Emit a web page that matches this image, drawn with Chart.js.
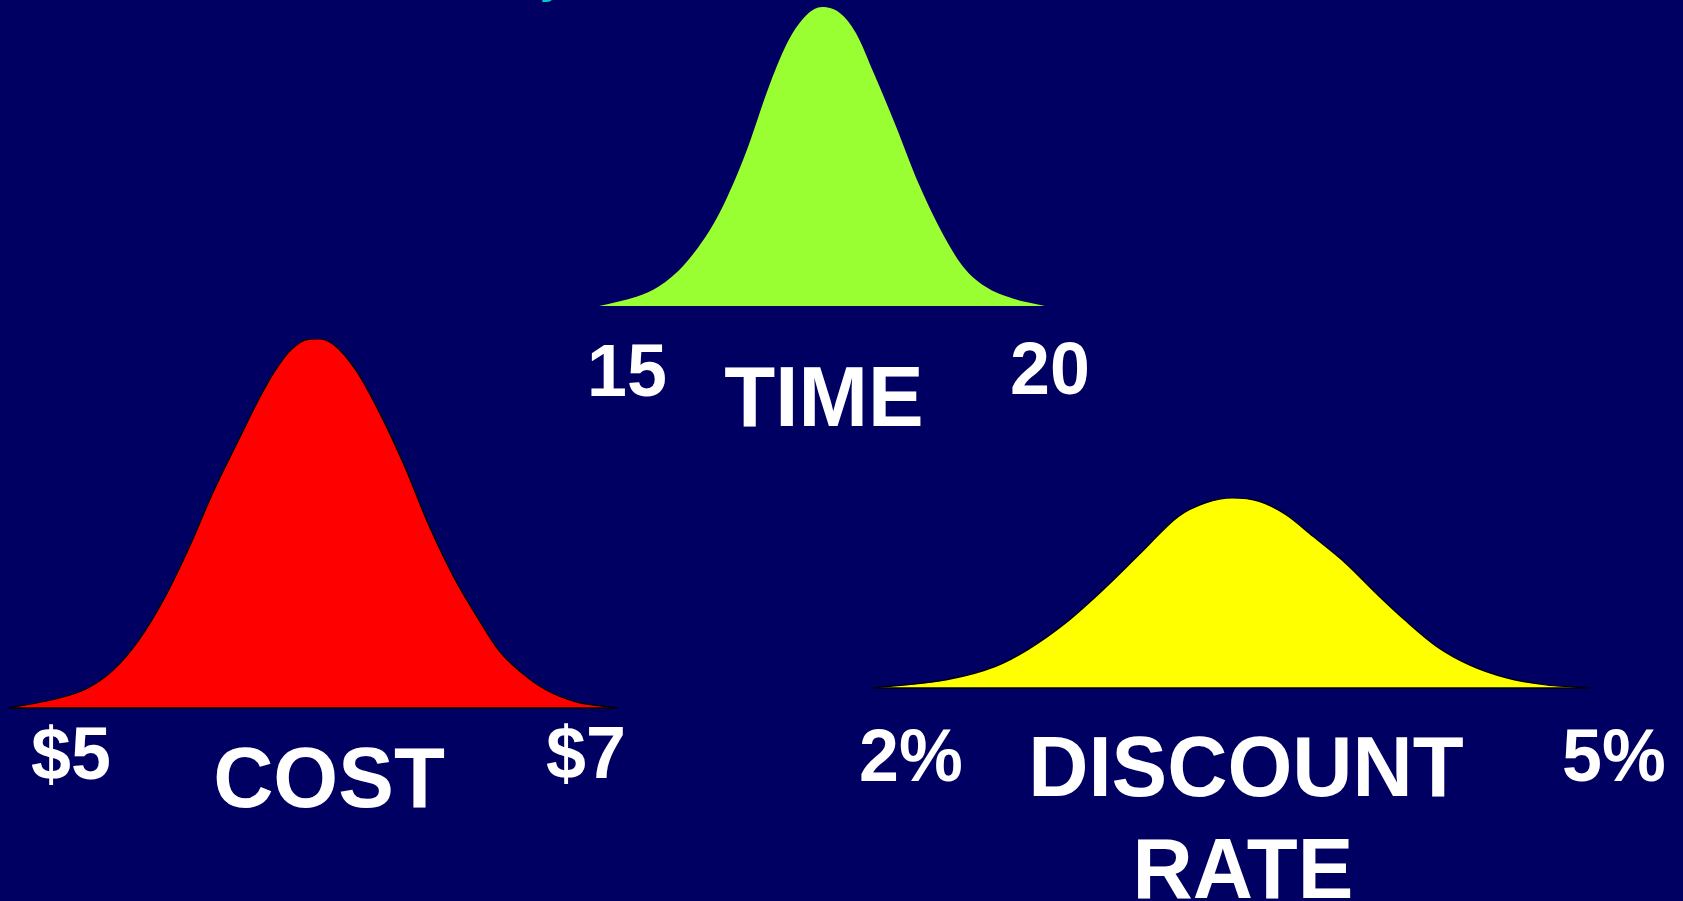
<!DOCTYPE html>
<html>
<head>
<meta charset="utf-8">
<script src="https://cdn.jsdelivr.net/npm/chart.js@4/dist/chart.umd.min.js"></script>
<style>
  html, body { margin: 0; padding: 0; }
  body { width: 1683px; height: 901px; background: #000062; position: relative; overflow: hidden;
         font-family: "Liberation Sans", Arial, sans-serif; }
  canvas { position: absolute; }
  .lbl { position: absolute; width: 800px; text-align: center; color: #fff; font-weight: bold;
         line-height: 1; white-space: nowrap; transform: scaleX(0.97); }
  .big { font-size: 86px; }
  .small { font-size: 74px; }
</style>
</head>
<body>

<div class="lbl" style="left:153px; top:-48px; font-size:48px; color:#00cccc;">y</div>

<canvas id="chart-time" width="456" height="309" style="left:594px; top:2px;"></canvas>
<canvas id="chart-cost" width="620" height="379" style="left:3px; top:334px;"></canvas>
<canvas id="chart-rate" width="727" height="200" style="left:868px; top:493px;"></canvas>

<div class="lbl small" style="left:227px; top:334px;">15</div>
<div class="lbl big"   style="left:424px; top:353px;">TIME</div>
<div class="lbl small" style="left:650px; top:332px;">20</div>

<div class="lbl small" style="left:-329px; top:717px;">$5</div>
<div class="lbl big"   style="left:-71px; top:734px;">COST</div>
<div class="lbl small" style="left:186px; top:716px;">$7</div>

<div class="lbl small" style="left:511px; top:719px;">2%</div>
<div class="lbl big"   style="left:846px; top:723px;">DISCOUNT</div>
<div class="lbl big"   style="left:843px; top:825px;">RATE</div>
<div class="lbl small" style="left:1214px; top:719px;">5%</div>

<script>
// 3つの分布（高さはピークを100とした相対値）

// TIME 15 - 20
const timeX = [15.00, 15.42, 15.67, 15.97, 16.33, 16.63, 16.92, 17.13, 17.33, 17.50,
               17.70, 17.88, 18.08, 18.33, 18.58, 18.85, 19.08, 19.33, 19.63, 20.00];
const timeY = [0, 3.1, 6.5, 14.3, 29.9, 50.0, 74.6, 89.1, 97.4, 100,
               98.0, 91.3, 77.9, 60.0, 41.1, 24.3, 13.2, 6.5, 2.6, 0];

// COST $5 - $7
const costX = [5.000, 5.159, 5.259, 5.344, 5.429, 5.515, 5.600, 5.671, 5.756, 5.827, 5.870, 5.927, 5.984,
               6.019, 6.069, 6.140, 6.225, 6.296, 6.382, 6.467, 6.538, 6.609, 6.680, 6.766, 6.865, 7.000];
const costY = [0, 2.5, 5.3, 10.2, 18.4, 30.1, 44.6, 58.2, 72.6, 84.4, 90.7, 97.0, 99.9,
               100, 98.4, 91.6, 78.9, 66.3, 49.1, 34.6, 24.7, 15.6, 9.8, 4.8, 1.6, 0];

// DISCOUNT RATE 2% - 5%
const rateX = [2.000, 2.311, 2.513, 2.648, 2.806, 2.963, 3.121, 3.278, 3.391, 3.503, 3.616,
               3.728, 3.841, 3.976, 4.111, 4.224, 4.358, 4.493, 4.651, 4.809, 5.000];
const rateY = [0, 4.4, 11.4, 20.2, 34.2, 51.7, 71.1, 90.3, 97.4, 100, 98.2,
               91.2, 79.8, 65.8, 49.1, 35.9, 21.9, 12.3, 5.3, 1.7, 0];

// 底辺の線（赤・黄のみ）
const baselinePlugin = {
  id: 'baseline',
  afterDatasetsDraw(chart, args, opts) {
    if (!opts.color) return;
    const { ctx, scales } = chart;
    const y = scales.y.getPixelForValue(0);
    ctx.save();
    ctx.strokeStyle = opts.color;
    ctx.lineWidth = 1.5;
    ctx.beginPath();
    ctx.moveTo(scales.x.getPixelForValue(scales.x.min), y);
    ctx.lineTo(scales.x.getPixelForValue(scales.x.max), y);
    ctx.stroke();
    ctx.restore();
  }
};

function buildBell(canvasId, xs, ys, fillColor, edgeColor) {
  const ctx = document.getElementById(canvasId).getContext('2d');
  return new Chart(ctx, {
    type: 'line',
    data: {
      datasets: [{
        data: xs.map((x, i) => ({ x: x, y: ys[i] })),
        backgroundColor: fillColor,
        borderColor: edgeColor || fillColor,
        borderWidth: edgeColor ? 1.2 : 0,
        fill: 'origin',
        pointRadius: 0,
        cubicInterpolationMode: 'monotone'
      }]
    },
    options: {
      responsive: false,
      animation: false,
      layout: { padding: 5 },
      scales: {
        x: { type: 'linear', min: xs[0], max: xs[xs.length - 1], display: false },
        y: { min: 0, max: 100, display: false }
      },
      plugins: {
        legend: { display: false },
        tooltip: { enabled: false },
        baseline: { color: edgeColor }
      }
    },
    plugins: [baselinePlugin]
  });
}

buildBell('chart-time', timeX, timeY, '#99ff33', null);
buildBell('chart-cost', costX, costY, '#ff0000', '#000000');
buildBell('chart-rate', rateX, rateY, '#ffff00', '#000000');
</script>
</body>
</html>
